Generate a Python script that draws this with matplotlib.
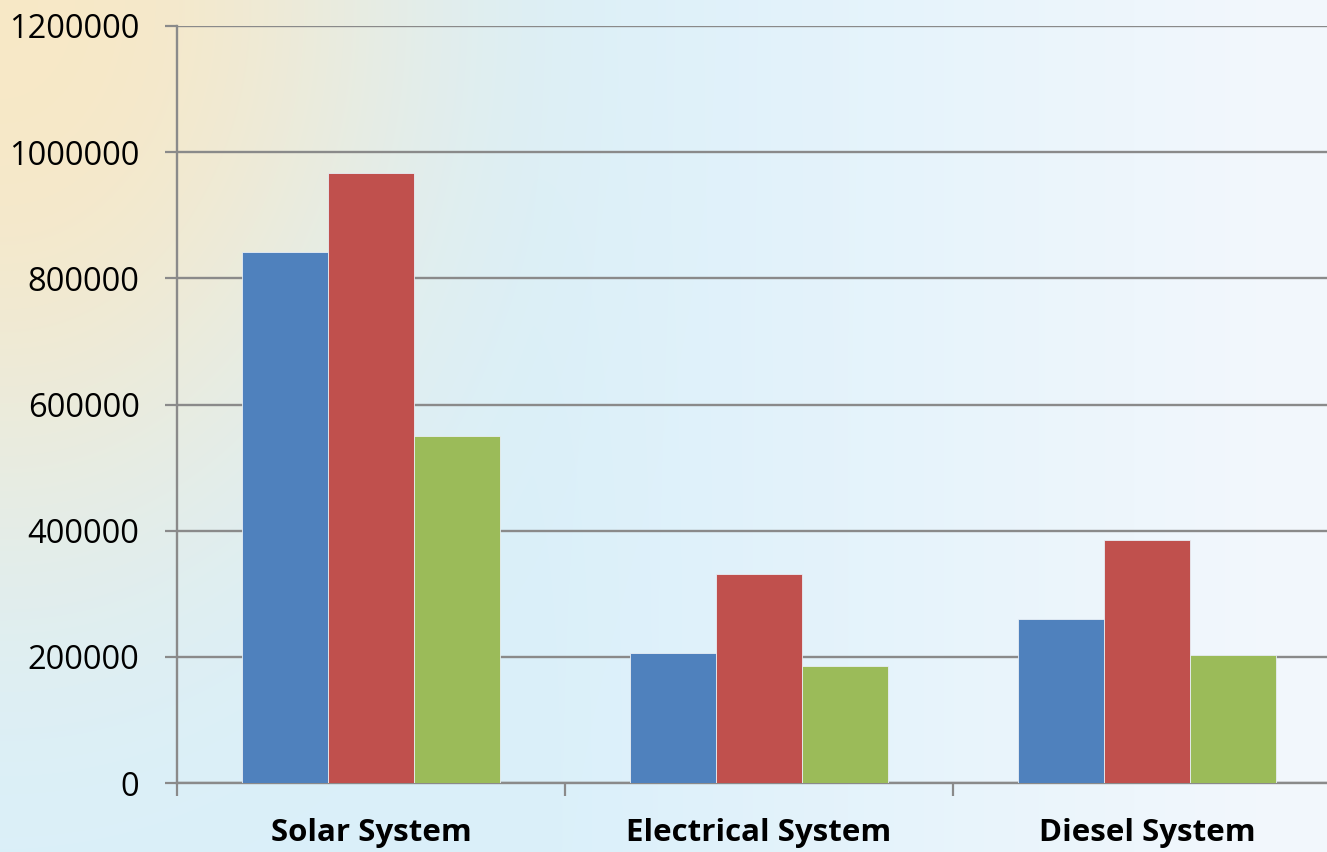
import numpy as np
import matplotlib
matplotlib.use("Agg")
import matplotlib.pyplot as plt

# data
systems = ["Solar System", "Electrical System", "Diesel System"]
series_a = [841000, 205600, 260000]   # blue
series_b = [966500, 330800, 384700]   # red
series_c = [550000, 185500, 202400]   # green
yticks = [0, 200000, 400000, 600000, 800000, 1000000, 1200000]

colors = ["#4F81BD", "#C0504D", "#9BBB59"]
grid_col = "#8A8A8A"

plt.rcParams["font.family"] = ["Open Sans", "DejaVu Sans"]

fig = plt.figure(figsize=(13.27, 8.52), dpi=100)

# decorative background: light blue wash, warm glow top-left, paler to the right
bg = fig.add_axes([0, 0, 1, 1], zorder=0)
h, w = 170, 265
yy, xx = np.mgrid[0:h, 0:w]
yy = yy / h; xx = xx / w
blue = np.array([0.855, 0.94, 0.98])
white = np.array([0.95, 0.97, 0.99])
warm = np.array([0.97, 0.91, 0.78])
t = np.clip((xx - 0.4) / 0.55, 0, 1)[..., None]
img = blue * (1 - t) + white * t
gw = np.exp(-((xx / 0.3) ** 2 + (yy / 0.62) ** 2) ** 1.3)[..., None]
img = img * (1 - gw) + warm * gw
bg.imshow(img, aspect="auto", extent=[0, 1, 0, 1], interpolation="bicubic")
bg.set_axis_off()

ax = fig.add_axes([177 / 1327, 69 / 852, 1164 / 1327, 757 / 852], zorder=1)
ax.set_facecolor("none")

x = np.arange(len(systems)) + 0.5
bw = 0.222
for i, vals in enumerate([series_a, series_b, series_c]):
    ax.bar(x + (i - 1) * bw, vals, width=bw, color=colors[i],
           edgecolor="#E8EEF5", linewidth=0.6, zorder=3)

ax.set_xlim(0, 3)
ax.set_ylim(0, 1200000)
ax.set_yticks(yticks)
ax.set_yticklabels([str(v) for v in yticks], fontsize=23.5)
ax.yaxis.grid(True, color=grid_col, linewidth=1.7, zorder=1)
ax.tick_params(axis="y", length=9, width=1.6, color=grid_col, pad=18)

ax.set_xticks(x)
ax.set_xticklabels(systems, fontsize=22.5, fontweight="bold")
ax.set_xticks([0, 1, 2, 3], minor=True)
ax.tick_params(axis="x", which="major", length=0, pad=25)
ax.tick_params(axis="x", which="minor", length=9, width=1.6, color=grid_col)

for s in ["top", "right"]:
    ax.spines[s].set_visible(False)
for s in ["left", "bottom"]:
    ax.spines[s].set_color(grid_col)
    ax.spines[s].set_linewidth(1.7)

fig.savefig("out.png", dpi=100)
